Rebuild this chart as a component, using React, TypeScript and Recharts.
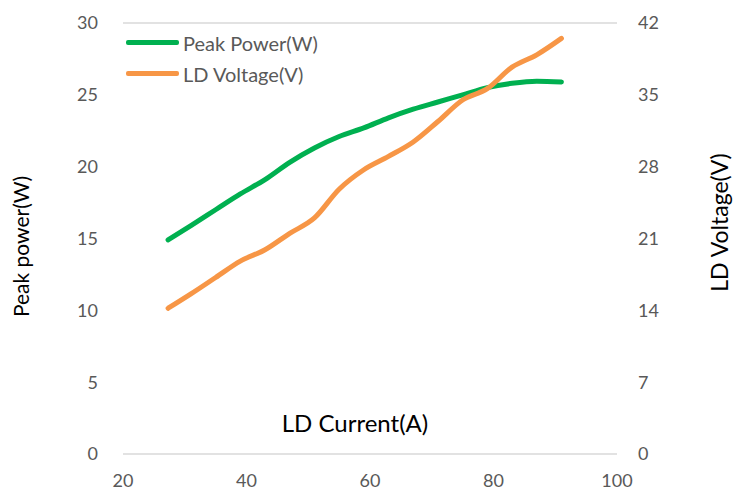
import React from "react";
import { LineChart, Line, XAxis, YAxis, CartesianGrid } from "recharts";

const current = [27.3, 31, 35, 39, 43, 47, 51, 55, 59, 63, 67, 71, 75, 79, 83, 87, 91];
const peakPower = [14.9, 15.9, 17.0, 18.1, 19.1, 20.3, 21.3, 22.1, 22.7, 23.4, 24.0, 24.5, 25.0, 25.5, 25.8, 25.95, 25.9];
const ldVoltage = [14.2, 15.6, 17.2, 18.8, 19.9, 21.5, 23.0, 25.8, 27.7, 29.0, 30.4, 32.4, 34.5, 35.6, 37.7, 38.9, 40.5];

const xTicks = [20, 40, 60, 80, 100];
const powerTicks = [0, 5, 10, 15, 20, 25, 30];
const voltageTicks = [0, 7, 14, 21, 28, 35, 42];

const GREEN = "#00B050";
const ORANGE = "#F79646";
const TICK = "#595959";

const data = current.map((c, i) => ({ current: c, power: peakPower[i], voltage: ldVoltage[i] }));

const legendItems = [
  { name: "Peak Power(W)", color: GREEN },
  { name: "LD Voltage(V)", color: ORANGE },
];

function LegendBox() {
  return (
    <div style={{ position: "absolute", left: 126, top: 27 }}>
      {legendItems.map((it) => (
        <div key={it.name} style={{ display: "flex", alignItems: "center", height: 31 }}>
          <div style={{ width: 53, height: 5, background: it.color, borderRadius: 2, marginRight: 4 }} />
          <span style={{ fontSize: 20, color: TICK }}>{it.name}</span>
        </div>
      ))}
    </div>
  );
}

export default function App() {
  return (
    <div style={{ position: "absolute", left: 0, top: 0, width: 736, height: 491, background: "#fff", fontFamily: "Lato" }}>
      <LineChart width={736} height={491} data={data} margin={{ top: 23, right: 0, bottom: 0, left: 0 }}>
        <CartesianGrid vertical={false} stroke="#d9d9d9" strokeWidth={1.5} />
        <XAxis
          dataKey="current"
          type="number"
          domain={[20, 100]}
          ticks={xTicks}
          height={37}
          axisLine={false}
          tickLine={false}
          tickSize={0}
          tickMargin={20}
          tick={{ fill: TICK, fontSize: 18 }}
          label={{ value: "LD Current(A)", position: "top", offset: 22, dx: -15, fill: "#000", fontSize: 24 }}
        />
        <YAxis
          yAxisId="left"
          domain={[0, 30]}
          ticks={powerTicks}
          width={123}
          axisLine={false}
          tickLine={false}
          tickSize={0}
          tickMargin={25}
          tick={{ fill: TICK, fontSize: 18 }}
          label={{ value: "Peak power(W)", angle: -90, position: "insideLeft", offset: 22, dy: 8, fill: "#000", fontSize: 21, style: { textAnchor: "middle" } }}
        />
        <YAxis
          yAxisId="right"
          orientation="right"
          domain={[0, 42]}
          ticks={voltageTicks}
          width={119}
          axisLine={false}
          tickLine={false}
          tickSize={0}
          tickMargin={21}
          tick={{ fill: TICK, fontSize: 18, textAnchor: "start" }}
          label={{ value: "LD Voltage(V)", angle: -90, position: "insideRight", offset: 16, dy: -16, fill: "#000", fontSize: 23, style: { textAnchor: "middle" } }}
        />
        <Line yAxisId="left" type="monotone" dataKey="power" name="Peak Power(W)" stroke={GREEN} strokeWidth={5} dot={false} strokeLinecap="round" isAnimationActive={false} />
        <Line yAxisId="right" type="monotone" dataKey="voltage" name="LD Voltage(V)" stroke={ORANGE} strokeWidth={5} dot={false} strokeLinecap="round" isAnimationActive={false} />
      </LineChart>
      <LegendBox />
    </div>
  );
}
